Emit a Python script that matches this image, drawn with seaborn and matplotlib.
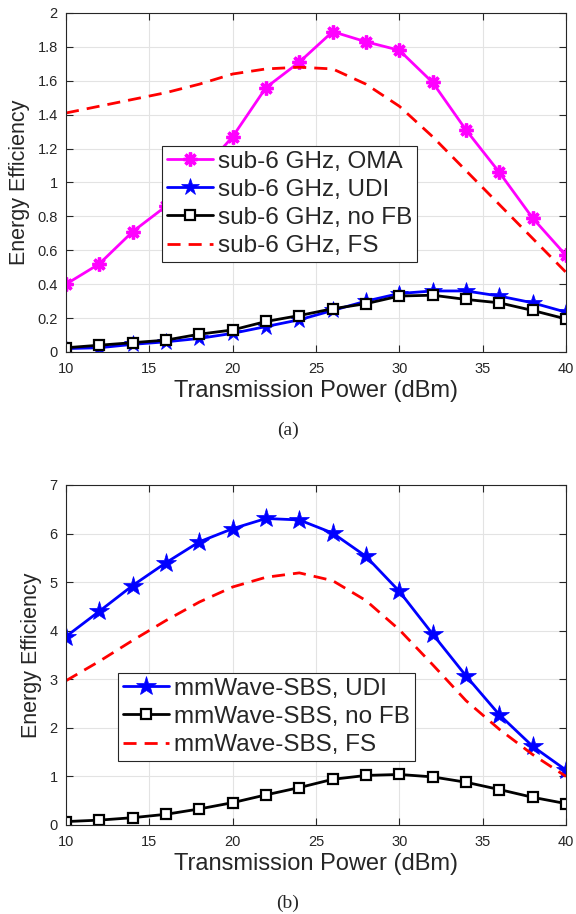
import pandas as pd
import matplotlib.pyplot as plt
import seaborn as sns

power = [10, 12, 14, 16, 18, 20, 22, 24, 26, 28, 30, 32, 34, 36, 38, 40]

# (a) sub-6 GHz
sub6_oma = [0.40, 0.52, 0.71, 0.86, 1.05, 1.27, 1.56, 1.71, 1.89, 1.83, 1.78, 1.59, 1.31, 1.06, 0.79, 0.57]
sub6_udi = [0.020, 0.025, 0.045, 0.060, 0.080, 0.110, 0.150, 0.190, 0.245, 0.300, 0.345, 0.360, 0.360, 0.330, 0.290, 0.235]
sub6_nofb = [0.025, 0.040, 0.055, 0.070, 0.105, 0.130, 0.180, 0.215, 0.255, 0.285, 0.330, 0.335, 0.310, 0.290, 0.245, 0.195]
sub6_fs = [1.41, 1.45, 1.49, 1.53, 1.58, 1.64, 1.67, 1.68, 1.67, 1.58, 1.45, 1.27, 1.07, 0.87, 0.67, 0.47]

# (b) mmWave-SBS
mm_udi = [3.88, 4.40, 4.93, 5.40, 5.83, 6.10, 6.31, 6.28, 6.01, 5.53, 4.81, 3.93, 3.07, 2.27, 1.62, 1.13]
mm_nofb = [0.07, 0.10, 0.15, 0.22, 0.33, 0.46, 0.62, 0.77, 0.94, 1.02, 1.04, 0.99, 0.88, 0.73, 0.57, 0.44]
mm_fs = [2.97, 3.37, 3.80, 4.21, 4.59, 4.90, 5.10, 5.19, 5.03, 4.62, 4.02, 3.30, 2.56, 1.97, 1.45, 1.00]

sns.set_style("whitegrid")
plt.rcParams['font.family'] = ['Liberation Sans', 'DejaVu Sans']

fig = plt.figure(figsize=(5.76, 9.14), dpi=100)
ax1 = fig.add_axes([0.1146, 0.6149, 0.868, 0.3709])
ax2 = fig.add_axes([0.1146, 0.0974, 0.868, 0.372])

asterisk = (8, 2, 0)


def draw(ax, y, label, color, marker=None, ms=7, mew=1.5, mfc=None, dashed=False):
    df = pd.DataFrame({'x': power, 'y': y})
    kw = dict(color=color, lw=2, label=label)
    if marker is not None:
        kw.update(marker=marker, markersize=ms, markeredgewidth=mew,
                  markeredgecolor=color, markerfacecolor=mfc if mfc else color)
    if dashed:
        kw.update(linestyle=(0, (4.7, 2.9)))
    sns.lineplot(data=df, x='x', y='y', ax=ax, **kw)


draw(ax1, sub6_oma, 'sub-6 GHz, OMA', '#ff00ff', marker=asterisk, ms=10, mew=2.4)
draw(ax1, sub6_udi, 'sub-6 GHz, UDI', '#0000ff', marker='*', ms=13, mew=0.5)
draw(ax1, sub6_nofb, 'sub-6 GHz, no FB', 'black', marker='s', ms=6.5, mew=1.6, mfc='white')
draw(ax1, sub6_fs, 'sub-6 GHz, FS', '#ff0000', dashed=True)

draw(ax2, mm_udi, 'mmWave-SBS, UDI', '#0000ff', marker='*', ms=15, mew=0.5)
draw(ax2, mm_nofb, 'mmWave-SBS, no FB', 'black', marker='s', ms=6.5, mew=1.6, mfc='white')
draw(ax2, mm_fs, 'mmWave-SBS, FS', '#ff0000', dashed=True)

for ax, ymax, yt, yl in [(ax1, 2, [0, 0.2, 0.4, 0.6, 0.8, 1, 1.2, 1.4, 1.6, 1.8, 2],
                          ['0', '0.2', '0.4', '0.6', '0.8', '1', '1.2', '1.4', '1.6', '1.8', '2']),
                         (ax2, 7, list(range(8)), [str(v) for v in range(8)])]:
    ax.set_xlim(10, 40)
    ax.set_ylim(0, ymax)
    ax.set_xticks([10, 15, 20, 25, 30, 35, 40])
    ax.set_yticks(yt)
    ax.set_yticklabels(yl)
    ax.grid(True, color='#e3e3e3', lw=0.8)
    for s in ax.spines.values():
        s.set_color('#262626')
        s.set_linewidth(0.8)
    ax.tick_params(direction='in', length=5, width=0.8, color='#262626',
                   labelsize=10.5, labelcolor='#262626', top=True, right=True,
                   bottom=True, left=True)
    ax.tick_params(axis='x', pad=7)
    ax.tick_params(axis='y', pad=6)
    ax.set_xlabel('Transmission Power (dBm)', fontsize=17, color='#262626', labelpad=3)
    ax.set_ylabel('Energy Efficiency', fontsize=15.5, color='#262626', labelpad=5)

leg_kw = dict(loc='upper left', fontsize=17.5, frameon=True, fancybox=False,
              edgecolor='#262626', framealpha=1, handlelength=1.9, handletextpad=0.2,
              borderpad=0.2, labelspacing=0.25, borderaxespad=0)
leg1 = ax1.legend(bbox_to_anchor=(0.192, 0.608), **leg_kw)
leg1.get_frame().set_linewidth(0.8)
leg2 = ax2.legend(bbox_to_anchor=(0.104, 0.447), **leg_kw)
leg2.get_frame().set_linewidth(0.8)

fig.text(0.5, 1 - 430 / 914, '(a)', ha='center', va='center', fontsize=14,
         family=['Liberation Serif', 'DejaVu Serif'])
fig.text(0.5, 1 - 903 / 914, '(b)', ha='center', va='center', fontsize=14,
         family=['Liberation Serif', 'DejaVu Serif'])

plt.savefig('out.png', dpi=100)
